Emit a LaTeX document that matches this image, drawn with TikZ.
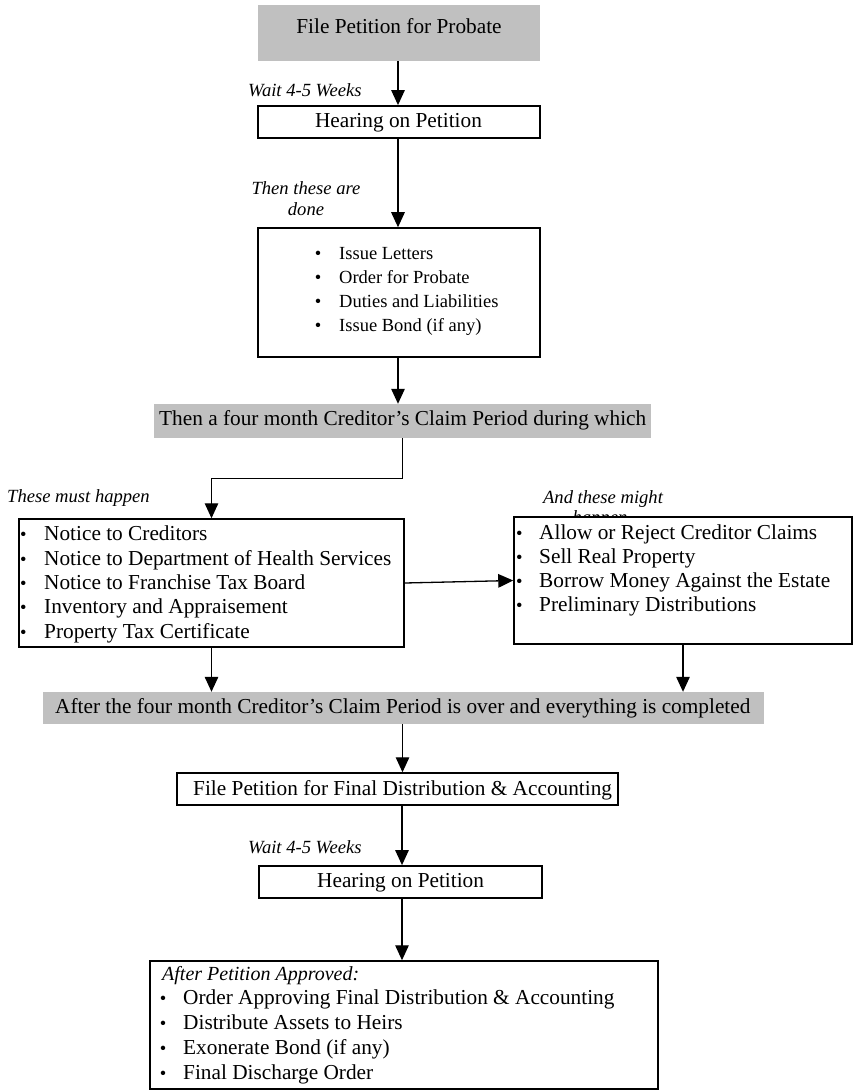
\documentclass[tikz,border=0pt]{standalone}
\usepackage{fontspec}
\setmainfont{Liberation Serif}
\usetikzlibrary{arrows.meta,calc}
\definecolor{graybg}{RGB}{192,192,192}
\newcommand\fa{\fontsize{21.3}{24}\selectfont}
\newcommand\fb{\fontsize{18.5}{24}\selectfont}
\newcommand\fl{\fontsize{18.6}{20}\selectfont\itshape}
\tikzset{
  box/.style={draw, line width=1.5pt, fill=white, inner sep=0pt},
  gbox/.style={fill=graybg, inner sep=0pt},
  arr/.style={-{Triangle[length=15pt,width=13.5pt]}, line width=1.3pt},
  txt/.style={inner sep=0pt, anchor=base west},
  ctxt/.style={inner sep=0pt, anchor=base},
}
\begin{document}
\begin{tikzpicture}[x=1pt,y=-1pt]
\useasboundingbox (0,0) rectangle (854,1091);
% boxes
\node[gbox, minimum width=282, minimum height=56] (b1) at (399,33) {};
\node[box, line width=1.8pt, minimum width=282, minimum height=32] (b2) at (399,122) {};
\node[box, minimum width=282, minimum height=129] (b3) at (399,292.5) {};
\node[gbox, minimum width=497, minimum height=34] (g1) at (402.5,421) {};
\node[box, minimum width=385, minimum height=128] (L) at (211.5,583) {};
% label partly hidden by right box
\node[ctxt, font=\fl] (lbl4a) at (603,503) {And these might};
\node[ctxt, font=\fl] (lbl4b) at (600,523) {happen};
\node[box, minimum width=338, minimum height=127] (R) at (683,580.5) {};
\node[gbox, minimum width=721, minimum height=32] (g2) at (403.5,708) {};
\node[box, minimum width=441, minimum height=32] (F) at (397.5,789) {};
\node[box, line width=1.8pt, minimum width=283, minimum height=32] (H2) at (400.5,882) {};
\node[box, minimum width=508, minimum height=128] (Bot) at (404,1025) {};

% single-line texts
\node[ctxt, font=\fa] (t1) at (399,34) {File Petition for Probate};
\node[ctxt, font=\fa] (t2) at (398.5,128) {Hearing on Petition};
\node[txt, font=\fa] (tg1) at (159,425) {Then a four month Creditor’s Claim Period during which};
\node[txt, font=\fa] (tg2) at (55,713) {After the four month Creditor’s Claim Period is over and everything is completed};
\node[txt, font=\fa] (tF) at (193,795) {File Petition for Final Distribution \& Accounting};
\node[txt, font=\fa] (tH2) at (317,887) {Hearing on Petition};

% italic labels
\node[txt, font=\fl] (lbl1) at (248,97) {Wait 4-5 Weeks};
\node[ctxt, font=\fl] (lbl2a) at (306,195) {Then these are};
\node[ctxt, font=\fl] (lbl2b) at (306,215) {done};
\node[txt, font=\fl] (lbl3) at (7,502) {These must happen};
\node[txt, font=\fl] (lbl5) at (248,853) {Wait 4-5 Weeks};

% box 3 list
\foreach \t [count=\i] in {Issue Letters, Order for Probate, Duties and Liabilities, Issue Bond (if any)}{
  \node[ctxt, font=\fb] (b3b\i) at (318,235+24*\i) {•};
  \node[txt, font=\fb] (b3t\i) at (339,235+24*\i) {\t};
}
% left box list
\foreach \t [count=\i] in {Notice to Creditors, Notice to Department of Health Services, Notice to Franchise Tax Board, Inventory and Appraisement, Property Tax Certificate}{
  \node[txt, font=\fb] (Lb\i) at (20,516.5+24.3*\i) {•};
  \node[txt, font=\fa] (Lt\i) at (44,516.5+24.3*\i) {\t};
}
% right box list
\foreach \t [count=\i] in {Allow or Reject Creditor Claims, Sell Real Property, Borrow Money Against the Estate, Preliminary Distributions}{
  \node[txt, font=\fb] (Rb\i) at (516,515+24.1*\i) {•};
  \node[txt, font=\fa] (Rt\i) at (539,515+24.1*\i) {\t};
}
% bottom box
\node[txt, font=\fontsize{20}{24}\selectfont\itshape] (bh) at (162,980) {After Petition Approved:};
\foreach \t [count=\i] in {Order Approving Final Distribution \& Accounting, Distribute Assets to Heirs, Exonerate Bond (if any), Final Discharge Order}{
  \node[ctxt, font=\fb] (Bb\i) at (163,979+25*\i) {•};
  \node[txt, font=\fa] (Bt\i) at (183,979+25*\i) {\t};
}

% connectors
\draw[arr] ([xshift=-1pt]b1.south) -- ([xshift=-1pt]b2.north);
\draw[arr] ([xshift=-1pt]b2.south) -- ([xshift=-1pt]b3.north);
\draw[arr] ([xshift=-1pt]b3.south) -- ([xshift=-1pt]b3.south |- g1.north);
\draw[arr] (g1.south) -- ++(0,40) -| (L.north);
\draw[arr] (L.east) -- (R.west);
\draw[arr] (L.south) -- (L.south |- g2.north);
\draw[arr] (R.south) -- (R.south |- g2.north);
\draw[arr] ([xshift=-1pt]g2.south) -- ([xshift=-1pt]g2.south |- F.north);
\draw[arr] ([xshift=4.5pt]F.south) -- ([xshift=4.5pt]F.south |- H2.north);
\draw[arr] ([xshift=1.5pt]H2.south) -- ([xshift=1.5pt]H2.south |- Bot.north);
\end{tikzpicture}
\end{document}
